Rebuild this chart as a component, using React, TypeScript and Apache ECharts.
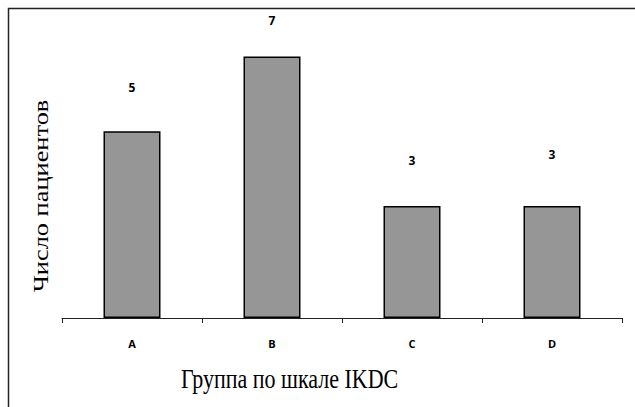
import React, { useEffect, useRef } from "react";
import * as echarts from "echarts";

const categories = ["A", "B", "C", "D"];
const patients = [5, 7, 3, 3];
const xTitle = "Группа по шкале IKDC";
const yTitle = "Число пациентов";

export default function App() {
  const ref = useRef<HTMLDivElement>(null);
  useEffect(() => {
    if (!ref.current) return;
    const chart = echarts.init(ref.current, null, { renderer: "svg" });
    const labelGaps = [38, 30, 39, 45];
    const serif = "Liberation Serif";
    chart.setOption({
      animation: false,
      backgroundColor: "#ffffff",
      grid: { left: 62, right: 13, top: 19, bottom: 89, containLabel: false },
      xAxis: {
        type: "category",
        data: categories,
        boundaryGap: true,
        axisLine: { show: true, lineStyle: { color: "#222", width: 1 } },
        axisTick: { show: true, interval: 0, length: 5, lineStyle: { color: "#222" } },
        axisLabel: {
          interval: 0,
          margin: 20,
          color: "#000",
          fontFamily: "Open Sans",
          fontWeight: "bold",
          fontSize: 11,
        },
        splitLine: { show: false },
      },
      yAxis: {
        type: "value",
        min: 0,
        max: 8,
        interval: 1,
        show: false,
        splitLine: { show: false },
      },
      series: [
        {
          type: "bar",
          barWidth: 57,
          data: patients.map((v, i) => ({
            value: v,
            label: { distance: labelGaps[i] },
          })),
          itemStyle: { color: "#969696", borderColor: "#000", borderWidth: 1.5 },
          label: {
            show: true,
            position: "top",
            color: "#000",
            fontFamily: "Open Sans",
            fontWeight: "bold",
            fontSize: 12,
          },
        },
      ],
      graphic: [
        {
          type: "rect",
          shape: { x: 8.5, y: 8.5, width: 700, height: 500 },
          style: { fill: "none", stroke: "#222", lineWidth: 1.5 },
          silent: true,
        },
        {
          type: "text",
          x: 181,
          y: 379,
          scaleY: 1.2,
          style: {
            text: xTitle,
            fontFamily: serif,
            fontSize: 22,
            fill: "#000",
            align: "left",
            verticalAlign: "middle",
          },
        },
        {
          type: "text",
          x: 40,
          y: 196,
          rotation: Math.PI / 2,
          scaleX: 1.2,
          style: {
            text: yTitle,
            fontFamily: serif,
            fontSize: 22,
            fill: "#000",
            align: "center",
            verticalAlign: "middle",
          },
        },
      ],
    });
    return () => chart.dispose();
  }, []);
  return (
    <div
      ref={ref}
      style={{ position: "fixed", left: 0, top: 0, width: 635, height: 407 }}
    />
  );
}
